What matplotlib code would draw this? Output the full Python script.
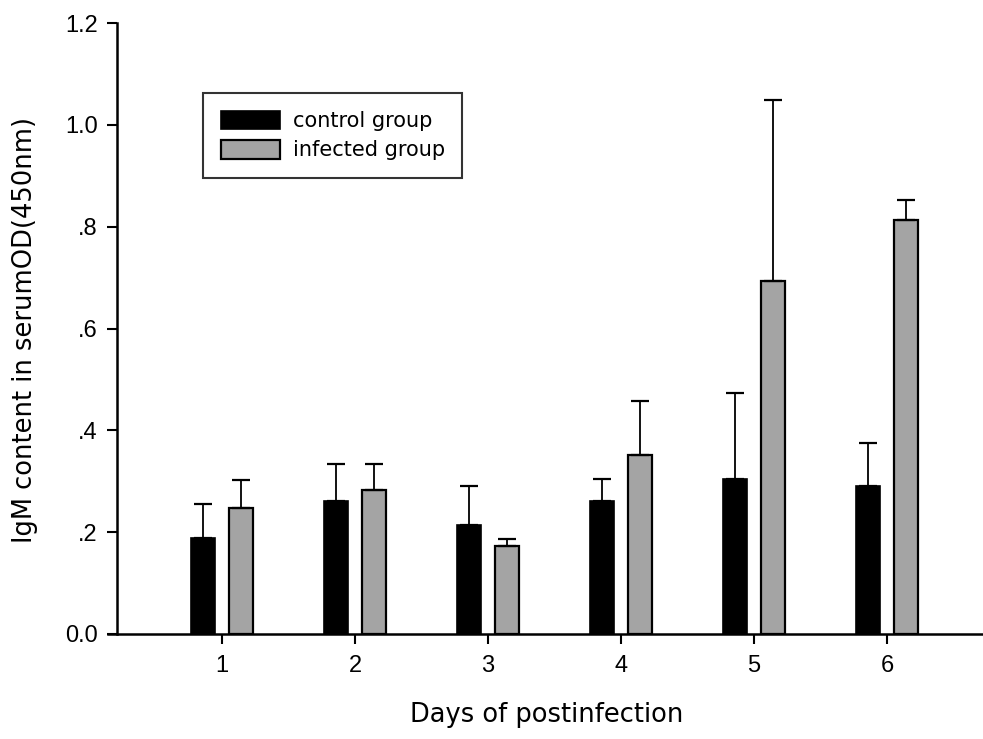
import matplotlib
matplotlib.use("Agg")
import matplotlib.pyplot as plt
import numpy as np

days = ["1", "2", "3", "4", "5", "6"]
control = [0.189, 0.262, 0.215, 0.262, 0.305, 0.290]
control_err = [0.066, 0.071, 0.075, 0.043, 0.168, 0.085]
infected = [0.247, 0.282, 0.172, 0.352, 0.693, 0.813]
infected_err = [0.055, 0.051, 0.015, 0.106, 0.355, 0.040]
yticks = [0.0, 0.2, 0.4, 0.6, 0.8, 1.0, 1.2]
ytick_labels = ["0.0", ".2", ".4", ".6", ".8", "1.0", "1.2"]

plt.rcParams['font.family'] = ['Liberation Sans', 'DejaVu Sans']

W, H = 983, 739
fig = plt.figure(figsize=(W / 100, H / 100), dpi=100)
left, right, bottom, top = 117, 983, 634, 23
ax = fig.add_axes([left / W, 1 - bottom / H, (right - left) / W, (bottom - top) / H])

x = np.arange(1, len(days) + 1)
px = 133.0
xmin = 1 - (222 - left) / px
xmax = 6 + (right - 887) / px
bw = 24 / px
off = 19 / px

ekw = dict(ecolor='black', elinewidth=1.3, capsize=6.5, capthick=1.6)
ax.bar(x - off, control, width=bw, color='black', edgecolor='black', linewidth=1.2,
       yerr=[np.zeros(len(control)), control_err], error_kw=ekw, label='control group')
ax.bar(x + off, infected, width=bw, color='#a4a4a4', edgecolor='black', linewidth=1.6,
       yerr=[np.zeros(len(infected)), infected_err], error_kw=ekw, label='infected group')

ax.set_xlim(xmin, xmax)
ax.set_ylim(0, 1.2)
ax.set_xticks(x)
ax.set_xticklabels(days)
ax.set_yticks(yticks)
ax.set_yticklabels(ytick_labels)
ax.tick_params(axis='both', direction='out', length=7, width=1.5, labelsize=17, pad=7, colors='black')
ax.tick_params(axis='x', pad=8)
for s in ['top', 'right']:
    ax.spines[s].set_visible(False)
ax.spines['left'].set_linewidth(1.8)
ax.spines['bottom'].set_linewidth(1.8)
ax.spines['bottom'].set_bounds(xmin - 9 / px, xmax)

lab_font = dict(family=['DejaVu Sans'], size=18.5)
ax.set_xlabel('Days of postinfection', **lab_font)
ax.set_ylabel('IgM content in serumOD(450nm)', **lab_font)
ax.xaxis.set_label_coords((547 - left) / (right - left), (bottom - 715) / (bottom - top))
ax.xaxis.label.set_verticalalignment('center')
ax.yaxis.set_label_coords((25 - left) / (right - left), (bottom - 330) / (bottom - top))
ax.yaxis.label.set_verticalalignment('center')

leg = ax.legend(loc='upper left', bbox_to_anchor=((203 - left) / (right - left), (bottom - 93) / (bottom - top)),
                prop=dict(family=['DejaVu Sans'], size=15), frameon=True, fancybox=False, edgecolor='black',
                handlelength=2.85, handleheight=1.0, borderpad=0.85, labelspacing=0.42, handletextpad=0.6,
                borderaxespad=0)
leg.get_frame().set_linewidth(1.5)

fig.savefig('out.png', dpi=100)
